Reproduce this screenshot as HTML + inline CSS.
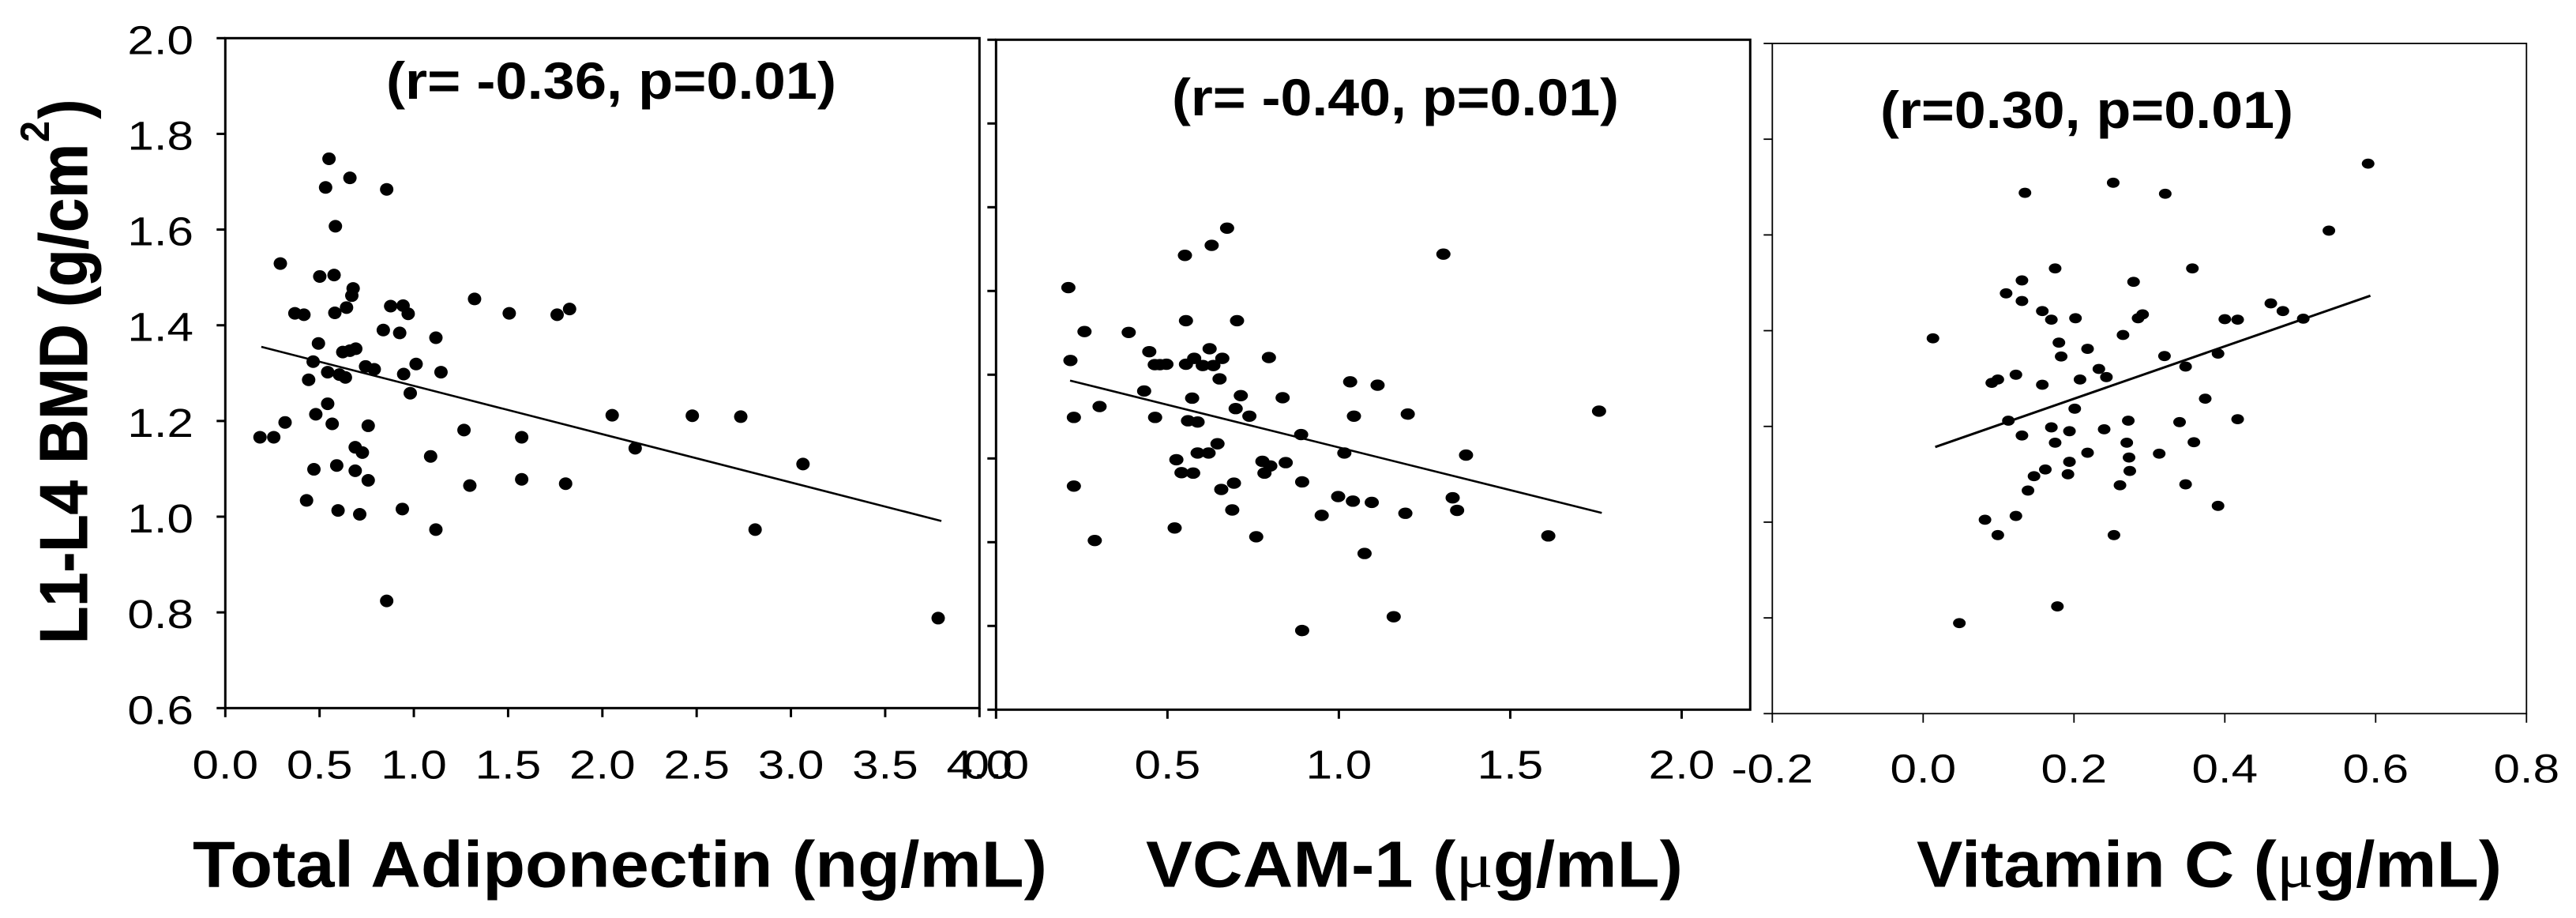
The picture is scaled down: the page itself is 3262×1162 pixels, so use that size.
<!DOCTYPE html>
<html lang="en">
<head>
<meta charset="utf-8">
<title>L1-L4 BMD correlations</title>
<style>
html,body{margin:0;padding:0;background:#fff;width:3262px;height:1162px;overflow:hidden}
svg{display:block}
text{fill:#000;font-family:"Liberation Sans",sans-serif}
.bold{font-weight:bold}
</style>
</head>
<body>
<svg id="chart" xmlns="http://www.w3.org/2000/svg" width="3262" height="1162" viewBox="0 0 3262 1162">
  <rect x="0" y="0" width="3262" height="1162" fill="#fff"/>

  <g>
    <text class="bold" transform="translate(110,815) rotate(-90)" font-size="85" textLength="633" lengthAdjust="spacingAndGlyphs" stroke="#000" stroke-width="1">L1-L4 BMD (g/cm</text>
    <text class="bold" transform="translate(62,180) rotate(-90)" font-size="52" textLength="27" lengthAdjust="spacingAndGlyphs">2</text>
    <text class="bold" transform="translate(110,150) rotate(-90)" font-size="85" textLength="24" lengthAdjust="spacingAndGlyphs" stroke="#000" stroke-width="1">)</text>
  </g>

  <text class="bold" x="244" y="1122.7" font-size="83" textLength="1082" lengthAdjust="spacingAndGlyphs">Total Adiponectin (ng/mL)</text>
  <text class="bold" x="1451" y="1122.7" font-size="83" textLength="680" lengthAdjust="spacingAndGlyphs">VCAM-1 (<tspan font-family="'Liberation Serif',serif" font-weight="normal">μ</tspan>g/mL)</text>
  <text class="bold" x="2427" y="1122.7" font-size="83" textLength="741" lengthAdjust="spacingAndGlyphs">Vitamin C (<tspan font-family="'Liberation Serif',serif" font-weight="normal">μ</tspan>g/mL)</text>

  <text class="bold" x="489" y="125" font-size="66" textLength="570" lengthAdjust="spacingAndGlyphs">(r= -0.36, p=0.01)</text>
  <text class="bold" x="1484" y="146" font-size="66" textLength="566" lengthAdjust="spacingAndGlyphs">(r= -0.40, p=0.01)</text>
  <text class="bold" x="2381" y="162" font-size="66" textLength="523" lengthAdjust="spacingAndGlyphs">(r=0.30, p=0.01)</text>
</svg>

<script>
// Panel 1: Total Adiponectin
const adiponectinX = [0.184,0.257,0.317,0.292,0.369,0.417,0.494,0.466,0.442,0.48,0.543,0.567,0.47,0.431,0.55,0.532,0.661,0.856,0.584,0.577,0.501,0.678,0.671,0.643,0.581,0.877,0.943,0.97,0.838,0.925,0.692,0.661,0.623,0.543,0.605,0.637,0.744,0.79,0.946,1.012,1.144,0.981,1.117,1.322,1.506,1.76,1.826,2.052,2.477,2.734,0.758,1.266,1.572,0.689,0.727,1.089,2.174,0.591,0.689,0.758,1.297,1.572,1.805,3.064,0.598,0.713,0.939,1.117,2.81,0.856,3.781];
const adiponectinY = [1.166,1.166,1.197,1.529,1.425,1.422,1.362,1.324,1.286,1.214,1.236,1.194,1.099,1.034,1.748,1.688,1.708,1.684,1.607,1.505,1.502,1.477,1.462,1.437,1.426,1.44,1.441,1.424,1.39,1.384,1.351,1.347,1.344,1.302,1.297,1.291,1.314,1.308,1.298,1.319,1.302,1.258,1.374,1.455,1.425,1.422,1.434,1.212,1.211,1.209,1.19,1.181,1.166,1.145,1.134,1.126,1.143,1.107,1.096,1.076,1.065,1.078,1.069,1.11,1.013,1.005,1.016,0.973,0.973,0.824,0.788];
const adiponectinTrendX = [0.191,3.798];
const adiponectinTrendY = [1.355,0.991];
const adiponectinXTicks = ['0.0','0.5','1.0','1.5','2.0','2.5','3.0','3.5','4.0'];
const adiponectinYTicks = ['0.6','0.8','1.0','1.2','1.4','1.6','1.8','2.0'];

// Panel 2: VCAM-1
const vcamX = [0.211,0.217,0.227,0.227,0.258,0.288,0.302,0.387,0.432,0.447,0.464,0.463,0.478,0.497,0.521,0.526,0.541,0.551,0.554,0.554,0.56,0.572,0.575,0.578,0.588,0.588,0.603,0.62,0.623,0.629,0.634,0.646,0.652,0.657,0.66,0.674,0.689,0.694,0.699,0.703,0.714,0.739,0.759,0.777,0.783,0.796,0.8,0.836,0.845,0.89,0.893,0.893,0.95,0.998,1.016,1.033,1.041,1.044,1.075,1.096,1.113,1.16,1.194,1.201,1.305,1.332,1.345,1.371,1.611,1.759];
const vcamY = [1.608,1.434,1.298,1.134,1.503,1.004,1.324,1.501,1.361,1.455,1.298,1.424,1.424,1.425,1.034,1.197,1.166,1.685,1.529,1.425,1.29,1.344,1.165,1.439,1.287,1.213,1.422,1.213,1.462,1.709,1.422,1.235,1.39,1.126,1.439,1.75,1.077,1.141,1.319,1.529,1.35,1.301,1.013,1.193,1.165,1.441,1.182,1.345,1.19,1.257,1.144,0.789,1.064,1.109,1.213,1.383,1.098,1.301,0.973,1.095,1.375,0.822,1.069,1.306,1.688,1.106,1.076,1.208,1.015,1.313];
const vcamTrendX = [0.216,1.767];
const vcamTrendY = [1.386,1.07];
const vcamXTicks = ['0.0','0.5','1.0','1.5','2.0'];
const vcamYTicks = ['0.6','0.8','1.0','1.2','1.4','1.6','1.8','2.0','2.2'];

// Panel 3: Vitamin C
const vitaminX = [0.013,0.048,0.082,0.091,0.099,0.099,0.11,0.113,0.123,0.123,0.131,0.131,0.131,0.135,0.139,0.147,0.158,0.158,0.162,0.17,0.17,0.175,0.175,0.178,0.18,0.183,0.192,0.194,0.194,0.201,0.202,0.208,0.218,0.218,0.233,0.24,0.243,0.252,0.253,0.261,0.265,0.27,0.272,0.273,0.274,0.279,0.285,0.291,0.313,0.32,0.321,0.34,0.348,0.348,0.357,0.359,0.374,0.391,0.391,0.4,0.417,0.417,0.461,0.477,0.504,0.538,0.59];
const vitaminY = [1.384,0.789,1.005,1.291,1.298,0.973,1.478,1.212,1.308,1.013,1.505,1.462,1.181,1.688,1.066,1.096,1.441,1.287,1.11,1.423,1.198,1.53,1.166,0.824,1.375,1.346,1.1,1.19,1.126,1.237,1.426,1.298,1.145,1.362,1.32,1.194,1.303,1.709,0.973,1.077,1.391,1.166,1.212,1.135,1.107,1.502,1.426,1.434,1.143,1.347,1.686,1.209,1.325,1.079,1.53,1.167,1.258,1.352,1.034,1.424,1.423,1.215,1.457,1.441,1.425,1.609,1.749];
const vitaminTrendX = [0.016,0.593];
const vitaminTrendY = [1.157,1.473];
const vitaminXTicks = ['-0.2','0.0','0.2','0.4','0.6','0.8'];
const vitaminYTicks = ['0.6','0.8','1.0','1.2','1.4','1.6','1.8','2.0'];

const NS = 'http://www.w3.org/2000/svg';
const svg = document.getElementById('chart');

function make(tag, attrs, parent) {
  const el = document.createElementNS(NS, tag);
  for (const k in attrs) el.setAttribute(k, attrs[k]);
  parent.appendChild(el);
  return el;
}

function drawPanel(cfg) {
  const g = make('g', {}, svg);
  
  

  const xMin = parseFloat(cfg.xTicks[0]);
  const xMax = cfg.xMax;
  const yMin = parseFloat(cfg.yTicks[0]);
  const yMax = parseFloat(cfg.yTicks[cfg.yTicks.length - 1]);
  const sx = v => cfg.left + (v - xMin) / (xMax - xMin) * (cfg.right - cfg.left);
  const sy = v => cfg.bottom - (v - yMin) / (yMax - yMin) * (cfg.bottom - cfg.top);

  const frame = make('rect', {x: cfg.left, y: cfg.top, width: cfg.right - cfg.left, height: cfg.bottom - cfg.top, fill: 'none', stroke: '#000', 'stroke-width': cfg.axisWidth}, g);
  
  

  cfg.xTicks.forEach(label => {
    const v = parseFloat(label);
    const tick = make('line', {x1: sx(v), x2: sx(v), y1: cfg.bottom, y2: cfg.bottom + 11.5, stroke: '#000', 'stroke-width': cfg.axisWidth}, g);
    
    
    const txt = make('text', {transform: 'translate(' + sx(v) + ',' + cfg.xLabelY + ') scale(1.18,1)', 'text-anchor': 'middle', 'font-size': 51}, g);
    txt.textContent = label;
    
    
  });

  cfg.yTicks.forEach(label => {
    const v = parseFloat(label);
    const tick = make('line', {x1: cfg.left - 11, x2: cfg.left, y1: sy(v), y2: sy(v), stroke: '#000', 'stroke-width': cfg.axisWidth}, g);
    
    
    if (cfg.showYLabels) {
      const txt = make('text', {transform: 'translate(245,' + (sy(v) + 20) + ') scale(1.18,1)', 'text-anchor': 'end', 'font-size': 51}, g);
      txt.textContent = label;
      
      
    }
  });

  cfg.xs.forEach((xv, i) => {
    const dot = make('ellipse', {cx: sx(xv), cy: sy(cfg.ys[i]), rx: cfg.rx, ry: cfg.ry, fill: '#000'}, g);
    
    
  });

  const trend = make('line', {x1: sx(cfg.trendX[0]), y1: sy(cfg.trendY[0]), x2: sx(cfg.trendX[1]), y2: sy(cfg.trendY[1]), stroke: '#000', 'stroke-width': cfg.trendWidth}, g);
  
  
}

drawPanel({name: 'adiponectin', xs: adiponectinX, ys: adiponectinY, trendX: adiponectinTrendX, trendY: adiponectinTrendY,
  xTicks: adiponectinXTicks, yTicks: adiponectinYTicks, xMax: 4, showYLabels: true,
  left: 285.3, right: 1240.3, top: 48.3, bottom: 896.3, axisWidth: 3, rx: 8.5, ry: 8, xLabelY: 985.7, trendWidth: 2.6});
drawPanel({name: 'vcam', xs: vcamX, ys: vcamY, trendX: vcamTrendX, trendY: vcamTrendY,
  xTicks: vcamXTicks, yTicks: vcamYTicks, xMax: 2.2, showYLabels: false,
  left: 1261.3, right: 2216.3, top: 50.3, bottom: 898.3, axisWidth: 3, rx: 9, ry: 7.2, xLabelY: 985.7, trendWidth: 2.6});
drawPanel({name: 'vitamin-c', xs: vitaminX, ys: vitaminY, trendX: vitaminTrendX, trendY: vitaminTrendY,
  xTicks: vitaminXTicks, yTicks: vitaminYTicks, xMax: 0.8, showYLabels: false,
  left: 2244.3, right: 3199.3, top: 55, bottom: 903.3, axisWidth: 1.8, rx: 8, ry: 6.4, xLabelY: 990.7, trendWidth: 3});
</script>
</body>
</html>
